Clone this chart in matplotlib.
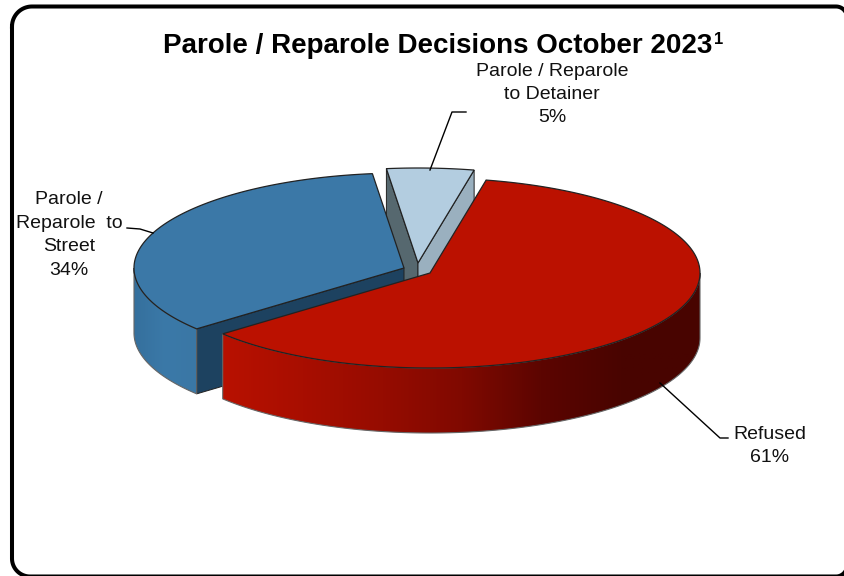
import numpy as np
import matplotlib
matplotlib.use('Agg')
import matplotlib.pyplot as plt
from matplotlib.patches import Polygon
from matplotlib.colors import LinearSegmentedColormap

plt.rcParams['font.family'] = ['Liberation Sans', 'DejaVu Sans']

# data (labels show them rounded)
categories = ['Refused', 'Parole / Reparole to Street', 'Parole / Reparole to Detainer']
values = [60.6, 34.2, 5.2]

title = 'Parole / Reparole Decisions October 2023'
refused_label = 'Refused\n61%'
street_label = 'Parole /\nReparole  to\nStreet\n34%'
detainer_label = 'Parole / Reparole\nto Detainer\n5%'

# pie shape in pixels
RX, RY, DEPTH = 270, 95, 65
START = 78
OUTLINE = '#222222'


def arc(center, t1, t2, dy=0, n=200):
	t = np.radians(np.linspace(t1, t2, n))
	return np.column_stack([center[0] + RX * np.cos(t), center[1] - RY * np.sin(t) + dy])


def side_face(ax, center, t1, t2, stops, zo):
	# curved rim of a slice, filled by a horizontal gradient clipped to the rim
	top = arc(center, t1, t2)
	bottom = arc(center, t1, t2, DEPTH)
	poly = Polygon(np.vstack([top, bottom[::-1]]), closed=True, fc='none', ec='#666666', lw=0.8, zorder=zo)
	ax.add_patch(poly)
	cmap = LinearSegmentedColormap.from_list('side', stops)
	x0, x1 = top[:, 0].min(), top[:, 0].max()
	im = ax.imshow(np.linspace(0, 1, 256).reshape(1, -1), cmap=cmap, aspect='auto',
		extent=(x0, x1, top[:, 1].max() + DEPTH, top[:, 1].min()), zorder=zo - 0.1)
	im.set_clip_path(poly)


def cut_face(ax, center, t, color, zo):
	# flat cut side of a slice going from the apex out to the rim at angle t
	rim = arc(center, t, t, n=1)[0]
	pts = [center, rim, (rim[0], rim[1] + DEPTH), (center[0], center[1] + DEPTH)]
	ax.add_patch(Polygon(pts, closed=True, fc=color, ec=OUTLINE, lw=0.7, zorder=zo))


def top_face(ax, center, t1, t2, color, zo):
	pts = np.vstack([[center], arc(center, t1, t2)])
	ax.add_patch(Polygon(pts, closed=True, fc=color, ec=OUTLINE, lw=0.9, zorder=zo))


def corner(cx, cy, r, t1, t2):
	t = np.radians(np.linspace(t1, t2, 30))
	return np.column_stack([cx + r * np.cos(t), cy + r * np.sin(t)])


fig = plt.figure(figsize=(8.44, 5.76), dpi=100)
ax = fig.add_axes([0, 0, 1, 1])

# slice angles come from the values, going clockwise
angles = START - np.cumsum([0] + values) * 3.6
red_a, blue_a, light_a, end_a = angles

# detainer slice is at the back
c = (418, 263)
cut_face(ax, c, light_a, '#56686f', 2)
cut_face(ax, c, end_a, '#9ab0bf', 2)
top_face(ax, c, light_a, end_a, '#b3cde0', 2.5)

# street slice
c = (404, 268)
cut_face(ax, c, blue_a, '#1d4260', 3)
side_face(ax, c, -180, blue_a, ['#35709d', '#3b79a8', '#3a77a5'], 3)
top_face(ax, c, blue_a, light_a, '#3b78a7', 3.5)

# refused slice on top
c = (430, 273)
side_face(ax, c, blue_a, 0, ['#b81100', '#a80e00', '#960c00', '#800900', '#5c0500', '#490400', '#480400'], 4)
top_face(ax, c, red_a, blue_a, '#bb1100', 4.5)

# leader lines
ax.plot([430, 452, 466], [170, 112, 112], color='black', lw=1, zorder=5)
ax.plot([127, 140, 153], [228, 229, 233], color='black', lw=1, zorder=5)
ax.plot([660, 720, 728], [383, 438, 438], color='black', lw=1, zorder=5)

# labels
ax.text(552, 94.5, detainer_label, ha='center', va='center', fontsize=14, linespacing=1.5, color='#111111')
ax.text(69, 235, street_label, ha='center', va='center', fontsize=14, linespacing=1.5, color='#111111')
ax.text(770, 446, refused_label, ha='center', va='center', fontsize=14, linespacing=1.5, color='#111111')

# title with superscript footnote mark
ax.text(163, 53, title, ha='left', va='baseline', fontsize=20, fontweight='bold', color='black')
ax.text(714, 44, '1', ha='left', va='baseline', fontsize=12, fontweight='bold', color='black')

# rounded frame, runs off the right and bottom edges
frame = np.vstack([
	corner(32, 26.5, 20, 180, 270),
	corner(836, 17.5, 11, 270, 360),
	corner(836, 565.5, 11, 0, 90),
	corner(30, 558.5, 18, 90, 180),
])
frame = np.vstack([frame, frame[:1]])
ax.plot(frame[:, 0], frame[:, 1], color='black', lw=2.9, zorder=6)

ax.set_xlim(0, 844)
ax.set_ylim(576, 0)
ax.axis('off')
fig.savefig('out.png', dpi=100)
